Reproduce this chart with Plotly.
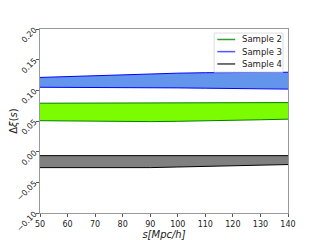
import plotly.graph_objects as go

s = [50, 60, 70, 80, 90, 100, 110, 120, 130, 140]

s2_upper = [0.079, 0.0792, 0.0793, 0.0794, 0.0795, 0.0796, 0.0797, 0.0798, 0.0799, 0.0800]
s2_lower = [0.0505, 0.0500, 0.0495, 0.0490, 0.0490, 0.0495, 0.0500, 0.0510, 0.0520, 0.0530]

s3_upper = [0.1210, 0.1225, 0.1240, 0.1258, 0.1270, 0.1280, 0.1287, 0.1290, 0.1293, 0.1295]
s3_lower = [0.1050, 0.1050, 0.1048, 0.1045, 0.1045, 0.1040, 0.1035, 0.1030, 0.1025, 0.1020]

s4_upper = [-0.0065, -0.0065, -0.0065, -0.0065, -0.0065, -0.0065, -0.0065, -0.0065, -0.0065, -0.0065]
s4_lower = [-0.0260, -0.0262, -0.0265, -0.0265, -0.0260, -0.0250, -0.0240, -0.0228, -0.0218, -0.0210]

names = ["Sample 2", "Sample 3", "Sample 4"]
uppers = [s2_upper, s3_upper, s4_upper]
lowers = [s2_lower, s3_lower, s4_lower]
edge = ["green", "blue", "black"]
fillc = ["#7CFC00", "#6495ED", "#808080"]
legc = ["#2ca02c", "#5555ff", "#444444"]

fig = go.Figure()
for n, up, lo, ec, fc in zip(names, uppers, lowers, edge, fillc):
    fig.add_trace(go.Scatter(x=s, y=lo, mode="lines", line=dict(color=ec, width=1),
                             name=n, showlegend=False, hoverinfo="skip"))
    fig.add_trace(go.Scatter(x=s, y=up, mode="lines", line=dict(color=ec, width=1),
                             fill="tonexty", fillcolor=fc, name=n, showlegend=False,
                             hoverinfo="skip"))

# compact matplotlib-style legend built from shapes and annotations
leg_x0, leg_x1, leg_ytop, leg_ybot = 0.702, 0.980, 0.978, 0.766
row_y = [0.943, 0.877, 0.810]
shapes = [dict(type="rect", xref="paper", yref="paper", x0=leg_x0, x1=leg_x1,
               y0=leg_ybot, y1=leg_ytop, line=dict(color="#dddddd", width=1),
               fillcolor="rgba(255,255,255,0.8)", layer="above")]
annotations = []
for n, lc, ry in zip(names, legc, row_y):
    shapes.append(dict(type="line", xref="paper", yref="paper", x0=0.715, x1=0.787,
                       y0=ry, y1=ry, line=dict(color=lc, width=1.5), layer="above"))
    annotations.append(dict(text=n, xref="paper", yref="paper", x=0.808, y=ry,
                            xanchor="left", yanchor="middle", showarrow=False,
                            font=dict(size=8.5, color="#222222")))

axis_common = dict(showline=True, linecolor="#999999", linewidth=1, mirror=True,
                   ticks="outside", ticklen=3, tickcolor="#555555", showgrid=False,
                   zeroline=False, automargin=False,
                   tickfont=dict(size=8, color="#222222"))

fig.update_layout(
    width=312, height=232,
    margin=dict(l=32, r=32, t=21, b=27),
    paper_bgcolor="white", plot_bgcolor="white",
    font=dict(family="DejaVu Sans", color="#222222"),
    showlegend=False,
    shapes=shapes, annotations=annotations,
    xaxis=dict(range=[50, 140], tickvals=[50, 60, 70, 80, 90, 100, 110, 120, 130, 140],
               title=dict(text="<i>s[Mpc/h]</i>", font=dict(size=10), standoff=2),
               **axis_common),
    yaxis=dict(range=[-0.10, 0.20], tickvals=[-0.10, -0.05, 0.0, 0.05, 0.10, 0.15, 0.20],
               tickformat=".2f", tickangle=-45,
               title=dict(text="Δ<i>ξ</i>(<i>s</i>)", font=dict(size=10), standoff=2),
               **axis_common),
)

fig.write_html("out.html")
